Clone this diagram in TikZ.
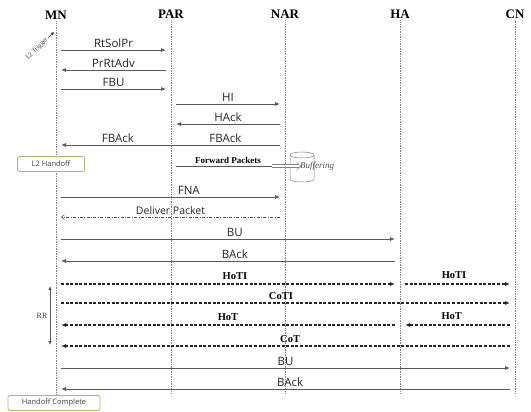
\documentclass[tikz,border=0pt]{standalone}
\usepackage{fontspec}
\setmainfont{Liberation Serif}
\setsansfont{Open Sans}
\usetikzlibrary{arrows.meta}
\definecolor{boxgreen}{RGB}{160,190,110}

\begin{document}
\begin{tikzpicture}[x=1pt,y=-1pt]
	\tikzstyle{actor} = [font=\fontsize{13}{13}\selectfont\bfseries, inner sep=2pt]
	\tikzstyle{life} = [draw=gray, densely dotted, line width=0.7]
	\tikzstyle{msg} = [draw=black!65, line width=0.8, -{Latex[length=5pt,width=4pt]}, shorten >=5pt, shorten <=5pt]
	\tikzstyle{dmsg} = [msg, draw=black!85, line width=1.1, dash pattern=on 3pt off 1.6pt]
	\tikzstyle{txt} = [font=\sffamily\fontsize{11.5}{12}\selectfont, text=black!85, inner sep=0pt]
	\tikzstyle{btxt} = [font=\fontsize{10.5}{10.5}\selectfont\bfseries, inner sep=0pt]
	\tikzstyle{note} = [draw=boxgreen, line width=0.8, rounded corners=2pt, fill=white, text=black!75, font=\sffamily\fontsize{7.5}{8}\selectfont, minimum height=15pt]
	\useasboundingbox (0,0) rectangle (531,412);
		\node[actor] (mn) at (56,15) {MN};
		\node[actor] (par) at (171,14) {PAR};
		\node[actor] (nar) at (285,14) {NAR};
		\node[actor] (ha) at (400,14) {HA};
		\node[actor] (cn) at (515,14) {CN};
	\foreach \a in {mn,par,nar,ha,cn}
		\draw[life] (\a.south) -- (\a |- 0,394);
		\coordinate (r1) at (0,50);
		\coordinate (r2) at (0,70);
		\coordinate (r3) at (0,89);
		\coordinate (r4) at (0,104);
		\coordinate (r5) at (0,124);
		\coordinate (r6) at (0,145);
		\coordinate (r7) at (0,166);
		\coordinate (r8) at (0,197);
		\coordinate (r9) at (0,217);
		\coordinate (r10) at (0,239);
		\coordinate (r11) at (0,261);
		\coordinate (r12) at (0,284);
		\coordinate (r13) at (0,303);
		\coordinate (r14) at (0,325);
		\coordinate (r15) at (0,346);
		\coordinate (r16) at (0,368);
		\coordinate (r17) at (0,389);
		\node[font=\fontsize{6.5}{7}\selectfont, rotate=45, text=black!80, inner sep=1pt] (trig) at (37,49) {L2 Trigger};
		\coordinate (trg) at (54,32);
	\draw[black!80, -{Latex[length=3pt,width=3pt]}] (trig.east) -- (trg);
	\draw[msg] (mn |- r1) -- (par |- r1) node[txt, midway, above=2pt] {RtSolPr};
	\draw[msg] (par |- r2) -- (mn |- r2) node[txt, midway, above=2pt] {PrRtAdv};
	\draw[msg] (mn |- r3) -- (par |- r3) node[txt, midway, above=2pt] {FBU};
	\draw[msg] (par |- r4) -- (nar |- r4) node[txt, midway, above=2pt] {HI};
	\draw[msg] (nar |- r5) -- (par |- r5) node[txt, midway, above=2pt] {HAck};
	\draw[msg] (nar |- r6) -- (mn |- r6) node[txt, pos=0.26, above=2pt] {FBAck} node[txt, pos=0.73, above=2pt] {FBAck};
		\node[note, minimum width=67pt] (l2h) at (51,164) {L2 Handoff};
	\draw[msg, -{Latex[length=4pt,width=3pt]}, line width=0.6] (par |- r7) -- (nar |- r7) node[btxt, midway, above=2pt, font=\fontsize{9}{9}\selectfont\bfseries] {Forward Packets};
		\coordinate (buf) at (302,155);
	\draw[gray, line width=0.5] (290,155) -- (290,179) arc[start angle=180, end angle=360, x radius=12pt, y radius=3pt] -- (314,155);
	\draw[gray, line width=0.5] (buf) ellipse [x radius=12pt, y radius=3pt];
	\draw[gray, double distance=2.5pt, line width=0.5, -{Implies}] ([xshift=-13pt]nar |- r7) -- ([xshift=17pt]nar |- r7);
		\node[font=\itshape\fontsize{9}{9}\selectfont, text=black!70, anchor=west, inner sep=0pt] (bufl) at ([xshift=15pt]nar |- r7) {Buffering};
	\draw[msg] (mn |- r8) -- (nar |- r8) node[txt, pos=0.58, above=2pt] {FNA};
	\draw[draw=black!70, line width=0.6, dash pattern=on 3pt off 1.5pt on 0.8pt off 1.5pt, -{Straight Barb[length=3pt,width=5pt]}, shorten >=5pt, shorten <=5pt] (nar |- r9) -- (mn |- r9) node[txt, midway, above=2pt, font=\sffamily\fontsize{10.5}{11}\selectfont] {Deliver Packet};
	\draw[msg] (mn |- r10) -- (ha |- r10) node[txt, pos=0.52, above=2pt] {BU};
	\draw[msg] (ha |- r11) -- (mn |- r11) node[txt, pos=0.48, above=2pt] {BAck};
	\draw[dmsg] (mn |- r12) -- (ha |- r12) node[btxt, pos=0.52, above=4pt] {HoTI};
	\draw[dmsg] (ha |- r12) -- (cn |- r12) node[btxt, pos=0.47, above=5pt] {HoTI};
	\draw[dmsg] (mn |- r13) -- (cn |- r13) node[btxt, pos=0.49, above=3pt] {CoTI};
	\draw[dmsg] (cn |- r14) -- (ha |- r14) node[btxt, pos=0.55, above=5pt] {HoT};
	\draw[dmsg] (ha |- r14) -- (mn |- r14) node[btxt, pos=0.5, above=4pt] {HoT};
	\draw[dmsg] (cn |- r15) -- (mn |- r15) node[btxt, pos=0.49, above=3pt] {CoT};
	\draw[msg] (mn |- r16) -- (cn |- r16) node[txt, midway, above=2pt] {BU};
	\draw[msg] (cn |- r17) -- (mn |- r17) node[txt, pos=0.49, above=2pt] {BAck};
		\coordinate (rrt) at (50,286);
		\coordinate (rrb) at (50,345);
	\draw[black!65, line width=0.9, {Latex[length=4pt,width=3.5pt]}-{Latex[length=4pt,width=3.5pt]}] (rrt) -- (rrb);
		\node[font=\fontsize{8}{8}\selectfont, text=black!75, inner sep=0pt] (rr) at (42,316) {RR};
		\node[note, minimum width=92pt] (hoc) at (54,403) {Handoff Complete};
\end{tikzpicture}
\end{document}
